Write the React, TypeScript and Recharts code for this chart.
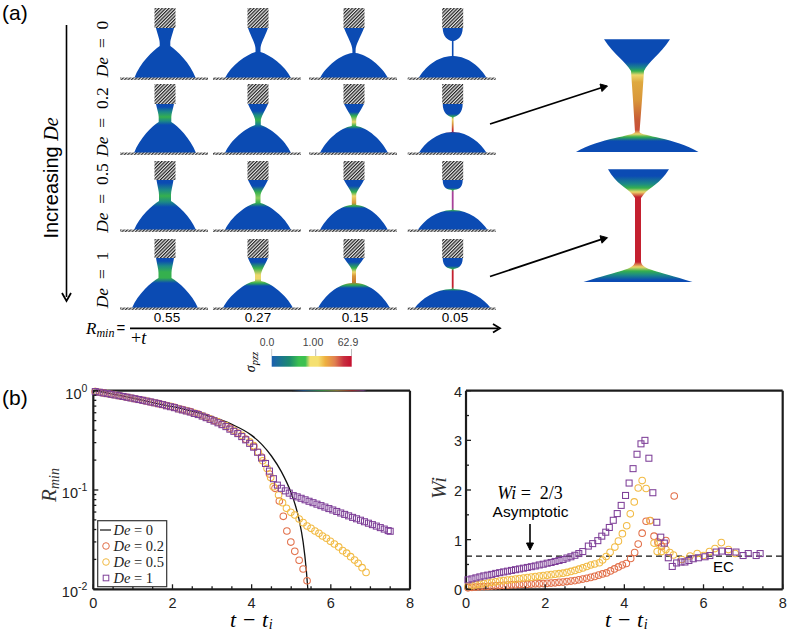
import {
  ComposedChart,
  Legend,
  Line,
  ReferenceLine,
  Scatter,
  XAxis,
  YAxis,
} from "recharts";

type Pt = [number, number];

const rminDe0: Pt[] = [
  [0, 1], [0.5, 0.925], [1, 0.84], [1.5, 0.76], [2, 0.69], [2.5, 0.62], [3, 0.547], [3.5, 0.458],
  [4, 0.355], [4.25, 0.29], [4.5, 0.22], [4.75, 0.153], [5, 0.093], [5.1, 0.071], [5.2, 0.05],
  [5.3, 0.03], [5.38, 0.0157], [5.42, 0.01],
];

const rminDe02: Pt[] = [
  [0.05, 0.98], [0.25, 0.95], [0.45, 0.92], [0.65, 0.89], [0.85, 0.86], [1.05, 0.83], [1.25, 0.8],
  [1.45, 0.77], [1.65, 0.74], [1.85, 0.71], [2.05, 0.68], [2.25, 0.645], [2.45, 0.615], [2.65, 0.58],
  [2.85, 0.54], [3.05, 0.5], [3.25, 0.46], [3.45, 0.42], [3.65, 0.375], [3.85, 0.325], [4.05, 0.275],
  [4.25, 0.215], [4.45, 0.145], [4.59, 0.104], [4.7, 0.0775], [4.8, 0.0543], [4.89, 0.0386],
  [4.99, 0.0299], [5.09, 0.0241], [5.2, 0.0196], [5.3, 0.016], [5.4, 0.0122],
];

const rminDe05: Pt[] = [
  [0.05, 0.98], [0.15, 0.965], [0.35, 0.935], [0.55, 0.905], [0.75, 0.875], [0.95, 0.845], [1.15, 0.815],
  [1.35, 0.785], [1.55, 0.755], [1.75, 0.725], [1.95, 0.695], [2.15, 0.66], [2.35, 0.63], [2.55, 0.595],
  [2.75, 0.56], [2.95, 0.52], [3.15, 0.485], [3.35, 0.445], [3.55, 0.4], [3.75, 0.355], [3.95, 0.305],
  [4.05, 0.28], [4.17, 0.24], [4.28, 0.197], [4.39, 0.165], [4.48, 0.134], [4.545, 0.108], [4.68, 0.089],
  [4.78, 0.0745], [4.88, 0.0654], [4.99, 0.0596], [5.09, 0.056], [5.2, 0.051], [5.3, 0.0469], [5.4, 0.0434],
  [5.5, 0.0411], [5.6, 0.0386], [5.7, 0.0366], [5.79, 0.0344], [5.89, 0.0327], [5.99, 0.0304], [6.09, 0.0286],
  [6.2, 0.0267], [6.3, 0.0245], [6.4, 0.0231], [6.5, 0.0213], [6.6, 0.0197], [6.69, 0.0183], [6.79, 0.0165],
  [6.89, 0.0148],
];

const rminDe1: Pt[] = [
  [0.05, 0.98], [0.15, 0.965], [0.25, 0.95], [0.35, 0.935], [0.45, 0.92], [0.55, 0.905], [0.65, 0.89],
  [0.75, 0.875], [0.85, 0.86], [0.95, 0.845], [1.05, 0.83], [1.15, 0.815], [1.25, 0.8], [1.35, 0.785],
  [1.45, 0.77], [1.55, 0.755], [1.65, 0.74], [1.75, 0.725], [1.85, 0.705], [1.95, 0.69], [2.05, 0.675],
  [2.15, 0.655], [2.25, 0.64], [2.35, 0.625], [2.45, 0.61], [2.55, 0.59], [2.65, 0.575], [2.75, 0.555],
  [2.85, 0.535], [2.95, 0.515], [3.05, 0.495], [3.15, 0.475], [3.25, 0.455], [3.35, 0.435], [3.45, 0.41],
  [3.55, 0.39], [3.65, 0.37], [3.75, 0.345], [3.85, 0.32], [3.95, 0.295], [4.05, 0.27], [4.15, 0.24],
  [4.25, 0.21], [4.35, 0.185], [4.45, 0.155], [4.55, 0.13], [4.65, 0.112], [4.75, 0.104], [4.85, 0.098],
  [4.95, 0.093], [5.05, 0.0878], [5.15, 0.0853], [5.25, 0.0825], [5.35, 0.0797], [5.45, 0.077], [5.55, 0.0745],
  [5.65, 0.072], [5.75, 0.0696], [5.85, 0.0673], [5.95, 0.065], [6.05, 0.0629], [6.15, 0.0608], [6.25, 0.0587],
  [6.35, 0.0568], [6.45, 0.0549], [6.55, 0.053], [6.65, 0.0513], [6.75, 0.0496], [6.85, 0.0479], [6.95, 0.0463],
  [7.05, 0.0448], [7.15, 0.0433], [7.25, 0.0418], [7.35, 0.0404], [7.45, 0.039], [7.5, 0.0384],
];

const wiDe02: Pt[] = [
  [0.05, 0.03], [0.15, 0.04], [0.25, 0.045], [0.35, 0.05], [0.45, 0.055], [0.55, 0.06], [0.65, 0.065],
  [0.75, 0.07], [0.85, 0.075], [0.95, 0.08], [1.05, 0.085], [1.15, 0.09], [1.25, 0.09], [1.35, 0.095],
  [1.45, 0.1], [1.55, 0.1], [1.65, 0.105], [1.75, 0.11], [1.85, 0.11], [1.95, 0.115], [2.05, 0.12],
  [2.15, 0.125], [2.25, 0.13], [2.35, 0.14], [2.45, 0.145], [2.55, 0.155], [2.65, 0.165], [2.75, 0.175],
  [2.85, 0.19], [2.95, 0.205], [3.05, 0.22], [3.15, 0.24], [3.25, 0.26], [3.35, 0.285], [3.45, 0.31],
  [3.55, 0.33], [3.65, 0.37], [3.75, 0.41], [3.85, 0.45], [3.95, 0.49], [4.05, 0.52], [4.16, 0.62],
  [4.26, 0.74], [4.35, 0.91], [4.45, 1.13], [4.55, 1.37], [4.65, 1.385], [4.75, 1.07], [4.85, 0.95],
  [4.94, 0.86], [5.05, 0.98], [5.26, 1.88],
];

const wiDe05: Pt[] = [
  [0.05, 0.06], [0.15, 0.075], [0.25, 0.09], [0.35, 0.1], [0.45, 0.115], [0.55, 0.125], [0.65, 0.14],
  [0.75, 0.15], [0.85, 0.165], [0.95, 0.175], [1.05, 0.185], [1.15, 0.195], [1.25, 0.205], [1.35, 0.215],
  [1.45, 0.225], [1.55, 0.235], [1.65, 0.245], [1.75, 0.255], [1.85, 0.265], [1.95, 0.275], [2.05, 0.285],
  [2.15, 0.295], [2.25, 0.305], [2.35, 0.315], [2.45, 0.325], [2.55, 0.34], [2.65, 0.36], [2.75, 0.38],
  [2.85, 0.405], [2.95, 0.43], [3.05, 0.46], [3.15, 0.49], [3.25, 0.51], [3.37, 0.535], [3.45, 0.59],
  [3.54, 0.66], [3.64, 0.745], [3.76, 0.85], [3.85, 0.97], [3.95, 1.12], [4.06, 1.28], [4.15, 1.52],
  [4.25, 1.76], [4.35, 2.04], [4.45, 2.19], [4.55, 2.03], [4.65, 1.38], [4.75, 0.93], [4.83, 0.76],
  [4.86, 0.91], [4.94, 0.76], [5.05, 0.8], [5.15, 0.74], [5.24, 0.69], [5.45, 0.6], [5.66, 0.67],
  [5.84, 0.72], [6.0, 0.68], [6.15, 0.76], [6.29, 0.82], [6.45, 0.94], [6.63, 0.8], [6.8, 0.72],
];

const wiDe1: Pt[] = [
  [0.05, 0.19], [0.15, 0.21], [0.25, 0.23], [0.35, 0.25], [0.45, 0.27], [0.55, 0.285], [0.65, 0.3],
  [0.75, 0.32], [0.85, 0.335], [0.95, 0.35], [1.05, 0.365], [1.15, 0.38], [1.25, 0.395], [1.35, 0.41],
  [1.45, 0.425], [1.55, 0.44], [1.65, 0.455], [1.75, 0.47], [1.85, 0.49], [1.95, 0.505], [2.05, 0.525],
  [2.15, 0.54], [2.25, 0.56], [2.35, 0.58], [2.45, 0.6], [2.55, 0.63], [2.65, 0.655], [2.75, 0.685],
  [2.85, 0.72], [2.95, 0.76], [3.09, 0.87], [3.2, 0.92], [3.33, 0.98], [3.43, 1.07], [3.53, 1.15],
  [3.62, 1.245], [3.72, 1.39], [3.82, 1.525], [3.92, 1.69], [4.03, 1.89], [4.12, 2.14], [4.22, 2.43],
  [4.32, 2.72], [4.42, 2.93], [4.52, 3.0], [4.62, 2.64], [4.72, 1.945], [4.82, 1.35], [4.92, 1.05],
  [5.01, 0.93], [5.11, 0.635], [5.21, 0.46], [5.32, 0.53], [5.43, 0.55], [5.53, 0.55], [5.63, 0.58],
  [5.74, 0.615], [5.87, 0.635], [6.04, 0.655], [6.16, 0.68], [6.32, 0.75], [6.46, 0.77], [6.63, 0.76],
  [6.82, 0.75], [7.0, 0.68], [7.13, 0.72], [7.33, 0.68], [7.43, 0.72],
];

const xTicks = [0, 0.5, 1, 1.5, 2, 2.5, 3, 3.5, 4, 4.5, 5, 5.5, 6, 6.5, 7, 7.5, 8];
const xLabels = [0, 2, 4, 6, 8];
const logTicks = [
  0.01, 0.02, 0.03, 0.04, 0.05, 0.06, 0.07, 0.08, 0.09, 0.1, 0.2, 0.3, 0.4, 0.5, 0.6, 0.7, 0.8, 0.9, 1,
];
const logLabels: Record<number, string> = { 0.01: "-2", 0.1: "-1", 1: "0" };
const wiTicks = [0, 0.5, 1, 1.5, 2, 2.5, 3, 3.5, 4];
const wiLabels = [0, 1, 2, 3, 4];
const panelDe = ["0", "0.2", "0.5", "1"];
const rminRow = ["0.55", "0.27", "0.15", "0.05"];

const RED = "#e2704a";
const YELLOW = "#f2bb45";
const PURPLE = "#7e3f98";
const FRAME = "#1c1c1c";
const TICK_W = 1.3;
const SERIF = "'Liberation Serif', serif";

const toRows = (pts: Pt[]) => pts.map(([t, v]) => ({ t, v }));

const circle = (color: string) => (p: any) =>
  <circle cx={p.cx} cy={p.cy} r={3.3} fill="none" stroke={color} strokeWidth={1.05} />;
const square = (color: string) => (p: any) =>
  <rect x={p.cx - 3} y={p.cy - 3} width={6} height={6} fill="none" stroke={color} strokeWidth={1.05} />;

const bottomTick = (p: any) => {
  const major = xLabels.includes(p.payload.value);
  return (
    <g>
      <line x1={p.x} x2={p.x} y1={p.y} y2={p.y - (major ? 5 : 3)} stroke={FRAME} strokeWidth={TICK_W} />
      {major && (
        <text x={p.x} y={p.y + 19} textAnchor="middle" fontSize={14.5} fill="#222">
          {p.payload.value}
        </text>
      )}
    </g>
  );
};
const topTick = (p: any) => (
  <line
    x1={p.x} x2={p.x} y1={p.y} y2={p.y + (xLabels.includes(p.payload.value) ? 5 : 3)}
    stroke={FRAME} strokeWidth={TICK_W}
  />
);
const inwardY = (isMajor: (v: number) => boolean, dir: number) => (p: any) => (
  <line
    x1={p.x} x2={p.x + dir * (isMajor(p.payload.value) ? 5 : 3)} y1={p.y} y2={p.y}
    stroke={FRAME} strokeWidth={TICK_W}
  />
);

const logLeftTick = (p: any) => {
  const exp = logLabels[p.payload.value];
  return (
    <g>
      <line x1={p.x} x2={p.x + (exp ? 5 : 3)} y1={p.y} y2={p.y} stroke={FRAME} strokeWidth={TICK_W} />
      {exp && (
        <text x={p.x - 6} y={p.y + 8} textAnchor="end" fontSize={14.5} fill="#222">
          10<tspan dy={-7} fontSize={10.5}>{exp}</tspan>
        </text>
      )}
    </g>
  );
};
const wiLeftTick = (p: any) => {
  const major = wiLabels.includes(p.payload.value);
  return (
    <g>
      <line x1={p.x} x2={p.x + (major ? 5 : 3)} y1={p.y} y2={p.y} stroke={FRAME} strokeWidth={TICK_W} />
      {major && (
        <text x={p.x - 4} y={p.y + 6} textAnchor="end" fontSize={14.5} fill="#222">
          {p.payload.value}
        </text>
      )}
    </g>
  );
};

function MiniLegend() {
  const rows = ["0", "0.2", "0.5", "1"];
  return (
    <svg width={71} height={68} style={{ display: "block" }}>
      <rect x={0.7} y={0.7} width={69} height={66} fill="#fff" stroke="#333" strokeWidth={1.2} />
      <line x1={3} x2={14} y1={10} y2={10} stroke="#111" strokeWidth={1.2} />
      <circle cx={9} cy={26} r={3.3} fill="none" stroke={RED} />
      <circle cx={9} cy={42} r={3.3} fill="none" stroke={YELLOW} />
      <rect x={6.2} y={55.2} width={5.6} height={5.6} fill="none" stroke={PURPLE} />
      {rows.map((r, i) => (
        <text key={r} x={16.5} y={14.5 + i * 16} fontFamily={SERIF} fontSize={14.5} fill="#222">
          <tspan fontStyle="italic">De</tspan> = {r}
        </text>
      ))}
    </svg>
  );
}

/* ---- panel (a): simulation snapshots, redrawn as plain svg ---- */
const B = "#0b4bb3";
const T = "#1c8a86";
const G = "#35b04e";
const Y = "#ecd76a";
const O = "#d9973a";
const R = "#c4202f";
const M = "#a8409a";

type Cell = {
  w: number; n: number; y1: number; y2: number; rb: number; a: number; b: number;
  pendant?: boolean; stops: [number, string][];
};

const COL_X = [165, 258, 354, 452.7];
const ROW_Y = [
  { noz: 8, top: 28, base: 78 },
  { noz: 84, top: 104, base: 153 },
  { noz: 161, top: 180, base: 230 },
  { noz: 239, top: 258, base: 308 },
];
const CELLS: Cell[][] = [
  [
    { w: 9, n: 5.3, y1: 43, y2: 46, rb: 30.7, a: 0.25, b: 0.14, stops: [] },
    { w: 10, n: 2.5, y1: 49, y2: 52, rb: 33, a: 0.3, b: 0.1, stops: [] },
    { w: 10, n: 1.6, y1: 50, y2: 53, rb: 34, a: 0.35, b: 0.05, stops: [] },
    { w: 10, n: 0.8, y1: 41, y2: 56, rb: 34, a: 0.45, b: 0.02, pendant: true, stops: [] },
  ],
  [
    { w: 9, n: 6.3, y1: 117, y2: 122, rb: 31, a: 0.25, b: 0.12, stops: [[107, B], [112, T], [117, G], [121, T], [125, B]] },
    { w: 10, n: 2.8, y1: 121, y2: 125, rb: 33, a: 0.3, b: 0.1, stops: [[111, B], [115, T], [120, G], [124, T], [128, B]] },
    { w: 10, n: 2.2, y1: 120, y2: 126, rb: 34, a: 0.35, b: 0.05, stops: [[112, B], [116, G], [122, Y], [126, G], [129, B]] },
    { w: 10, n: 0.9, y1: 117, y2: 132, rb: 34, a: 0.45, b: 0.02, pendant: true, stops: [[114, B], [117, G], [119, Y], [124, O], [131, R], [133, B]] },
  ],
  [
    { w: 8.5, n: 6, y1: 195, y2: 201, rb: 31, a: 0.25, b: 0.14, stops: [[183, B], [190, T], [196, G], [202, T], [207, B]] },
    { w: 10, n: 2.5, y1: 196, y2: 203, rb: 33, a: 0.3, b: 0.08, stops: [[186, B], [192, G], [198, "#8fcf5c"], [203, G], [207, B]] },
    { w: 10, n: 2.2, y1: 195, y2: 205, rb: 34, a: 0.4, b: 0.03, stops: [[186, B], [192, G], [196, Y], [203, O], [206, G], [208, B]] },
    { w: 10, n: 0.9, y1: 190, y2: 210, rb: 35, a: 0.45, b: 0.02, pendant: true, stops: [[188, B], [190, G], [192, M], [208, M], [210, G], [212, B]] },
  ],
  [
    { w: 9, n: 6.5, y1: 273, y2: 278, rb: 33, a: 0.25, b: 0.12, stops: [[261, B], [266, T], [272, G], [278, G], [283, B]] },
    { w: 10, n: 3, y1: 275, y2: 281, rb: 35, a: 0.3, b: 0.06, stops: [[262, B], [268, G], [275, Y], [279, Y], [283, G], [286, B]] },
    { w: 10, n: 2, y1: 271, y2: 283, rb: 36, a: 0.42, b: 0.03, stops: [[262, B], [268, G], [272, Y], [276, O], [282, "#c87a30"], [285, G], [288, B]] },
    { w: 10, n: 0.9, y1: 269, y2: 289, rb: 38, a: 0.45, b: 0.02, pendant: true, stops: [[266, B], [269, G], [271, R], [287, R], [289, G], [291, B]] },
  ],
];

function bridgePath(cx: number, top: number, base: number, c: Cell) {
  const { w, n, y1, y2, rb, a, b } = c;
  const c1x = n + (rb - n) * a;
  const c1y = y2 + (base - y2) * b;
  const c2y = base - (base - y2) * 0.48;
  const upA = c.pendant
    ? [w, top + 9, n + 3.5, y1 - 0.5]
    : [w - (w - n) * 0.45, top + (y1 - top) * 0.45, n, y1 - (y1 - top) * 0.25];
  return [
    `M${cx - w} ${top} L${cx + w} ${top}`,
    `C${cx + upA[0]} ${upA[1]} ${cx + upA[2]} ${upA[3]} ${cx + n} ${y1}`,
    `L${cx + n} ${y2}`,
    `C${cx + c1x} ${c1y} ${cx + rb * 0.82} ${c2y} ${cx + rb} ${base}`,
    `L${cx - rb} ${base}`,
    `C${cx - rb * 0.82} ${c2y} ${cx - c1x} ${c1y} ${cx - n} ${y2}`,
    `L${cx - n} ${y1}`,
    `C${cx - upA[2]} ${upA[3]} ${cx - upA[0]} ${upA[1]} ${cx - w} ${top} Z`,
  ].join(" ");
}

function Gradient({ id, top, base, stops }: { id: string; top: number; base: number; stops: [number, string][] }) {
  return (
    <linearGradient id={id} gradientUnits="userSpaceOnUse" x1={0} x2={0} y1={top} y2={base}>
      <stop offset={0} stopColor={B} />
      {stops.map(([y, col], i) => (
        <stop key={i} offset={(y - top) / (base - top)} stopColor={col} />
      ))}
      <stop offset={1} stopColor={B} />
    </linearGradient>
  );
}

function Snapshots() {
  return (
    <>
      {ROW_Y.map((row, r) =>
        COL_X.map((cx, c) => {
          const id = `cell${r}${c}`;
          const cell = CELLS[r][c];
          return (
            <g key={id}>
              <Gradient id={id} top={row.top} base={row.base} stops={cell.stops} />
              <rect x={cx - 10.5} y={row.noz} width={21} height={row.top - row.noz} fill="url(#hatch)" />
              <path d={bridgePath(cx, row.top, row.base, cell)} fill={`url(#${id})`} />
              <rect x={cx - 45} y={row.base - 0.5} width={88} height={2.4} fill="url(#ground)" />
            </g>
          );
        }),
      )}
    </>
  );
}

function Annotations() {
  return (
    <>
      <text x={2} y={20} fontSize={21}>(a)</text>
      <text x={2} y={405} fontSize={21}>(b)</text>

      <line x1={66.5} x2={66.5} y1={25} y2={297} stroke="#000" strokeWidth={1.6} />
      <path d="M62 293 L66.5 301 L71 293" fill="none" stroke="#000" strokeWidth={1.8} />
      <text transform="translate(58 178) rotate(-90)" textAnchor="middle" fontSize={20}>
        Increasing <tspan fontFamily={SERIF} fontStyle="italic">De</tspan>
      </text>

      {panelDe.map((d, i) => (
        <text
          key={d}
          transform={`translate(108 ${[49, 122, 198, 280][i]}) rotate(-90)`}
          textAnchor="middle"
          fontFamily={SERIF}
          fontSize={17.5}
          xmlSpace="preserve"
        >
          <tspan fontStyle="italic">De</tspan>  =  {d}
        </text>
      ))}

      {rminRow.map((v, i) => (
        <text key={v} x={[167, 258, 355, 455][i]} y={322} textAnchor="middle" fontSize={13.5}>{v}</text>
      ))}
      <line x1={130} x2={498} y1={328.3} y2={328.3} stroke="#000" strokeWidth={1.8} />
      <path d="M493 324 L500 328.3 L493 332.6" fill="none" stroke="#000" strokeWidth={1.8} />
      <text x={86} y={334} fontFamily={SERIF} fontSize={17} fontStyle="italic">
        R<tspan dy={3} fontSize={12}>min</tspan>
      </text>
      <text x={116.5} y={333} fontSize={15}>=</text>
      <text x={131} y={344} fontFamily={SERIF} fontSize={18}>+<tspan fontStyle="italic">t</tspan></text>

      <text x={267} y={346} textAnchor="middle" fontSize={10.5} fill="#444">0.0</text>
      <text x={313} y={346} textAnchor="middle" fontSize={10.5} fill="#444">1.00</text>
      <text x={348} y={346} textAnchor="middle" fontSize={10.5} fill="#444">62.9</text>
      <line x1={315.7} x2={315.7} y1={349} y2={356} stroke="#bbb" />
      <line x1={351.5} x2={351.5} y1={349} y2={356} stroke="#bbb" />
      <line x1={271.7} x2={271.7} y1={349} y2={356} stroke="#ccc" />
      <rect x={271.7} y={356} width={80} height={10.7} fill="url(#cbar)" />
      <text transform="translate(255 362) rotate(-90)" textAnchor="middle" fontFamily={SERIF} fontSize={14} fontStyle="italic">
        σ<tspan dy={2.5} fontSize={10.5}>pzz</tspan>
      </text>

      <path d="M490 124 L602 87.5" stroke="#000" strokeWidth={1.8} />
      <path d="M600 84 L607.5 86 L602 91.5 Z" fill="#000" stroke="#000" />
      <path d="M490 276.5 L602 239.2" stroke="#000" strokeWidth={1.8} />
      <path d="M600 235.7 L607.5 237.7 L602 243.2 Z" fill="#000" stroke="#000" />

      <Gradient
        id="inset1"
        top={39}
        base={152}
        stops={[[62, B], [68, T], [71, G], [75, Y], [82, "#dfa93f"], [100, O], [120, "#c75a35"], [130, "#c9503a"], [134, Y], [137, G], [141, B]]}
      />
      <path
        d="M604 39.3 L670 39.3 C660 55 648 62 644 71 L642 100 L639.5 132 C641 136 675 138 698.5 152 L576 152 C600 138 634 136 635 132 L633 100 L631 71 C626 62 614 55 604 39.3 Z"
        fill="url(#inset1)"
      />
      <Gradient
        id="inset2"
        top={169}
        base={282}
        stops={[[176, B], [184, T], [188, G], [192, Y], [197, R], [262, R], [267, Y], [271, G], [275, T], [280, B]]}
      />
      <path
        d="M608 169.3 L669 169.3 C660 184 650 187 644 194 L641 198 L641 262 C643 270 655 270 692.5 282 L583.5 282 C621 270 633 270 635 262 L635 198 L632 194 C626 187 616 184 608 169.3 Z"
        fill="url(#inset2)"
      />

      {/* panel (b) axis titles and notes */}
      <text x={251.7} y={627} textAnchor="middle" fontFamily={SERIF} fontSize={22} letterSpacing={0.6} xmlSpace="preserve">
        <tspan fontStyle="italic">t</tspan> − <tspan fontStyle="italic">t</tspan>
        <tspan dy={2} fontSize={14} fontStyle="italic">i</tspan>
      </text>
      <text x={626.7} y={627} textAnchor="middle" fontFamily={SERIF} fontSize={22} letterSpacing={0.6} xmlSpace="preserve">
        <tspan fontStyle="italic">t</tspan> − <tspan fontStyle="italic">t</tspan>
        <tspan dy={2} fontSize={14} fontStyle="italic">i</tspan>
      </text>
      <text transform="translate(56 485) rotate(-90)" textAnchor="middle" fontFamily={SERIF} fontSize={21} fontStyle="italic" fill="#333">
        R<tspan dy={3} fontSize={14}>min</tspan>
      </text>
      <text transform="translate(446 488) rotate(-90)" textAnchor="middle" fontFamily={SERIF} fontSize={21} fontStyle="italic" fill="#333">
        Wi
      </text>
      <text x={530} y={499} textAnchor="middle" fontFamily={SERIF} fontSize={18} xmlSpace="preserve">
        <tspan fontStyle="italic">Wi</tspan> =  2/3
      </text>
      <text x={530.5} y={517} textAnchor="middle" fontSize={15.5}>Asymptotic</text>
      <line x1={530} x2={530} y1={524} y2={546} stroke="#000" strokeWidth={1.6} />
      <path d="M526.5 543 L530 550 L533.5 543 Z" fill="#000" stroke="#000" />
      <text x={723.5} y={572} textAnchor="middle" fontSize={15}>EC</text>
    </>
  );
}

function Defs() {
  return (
    <defs>
      <pattern id="hatch" width={2.4} height={2.4} patternUnits="userSpaceOnUse" patternTransform="rotate(45)">
        <rect width={2.4} height={2.4} fill="#e8e8e8" />
        <rect width={1.2} height={2.4} fill="#222" />
      </pattern>
      <pattern id="ground" width={2.4} height={2.4} patternUnits="userSpaceOnUse" patternTransform="rotate(45)">
        <rect width={2.4} height={2.4} fill="#ddd" />
        <rect width={1.2} height={2.4} fill="#333" />
      </pattern>
      <linearGradient id="cbar">
        <stop offset={0} stopColor="#1a5fb0" />
        <stop offset={0.22} stopColor="#1c8a70" />
        <stop offset={0.34} stopColor="#3cc050" />
        <stop offset={0.42} stopColor="#3cc050" />
        <stop offset={0.48} stopColor="#f5e070" />
        <stop offset={0.58} stopColor="#f5e070" />
        <stop offset={0.67} stopColor="#eeb040" />
        <stop offset={0.79} stopColor="#e08050" />
        <stop offset={0.9} stopColor="#c83040" />
        <stop offset={1} stopColor="#c4102f" />
      </linearGradient>
      <linearGradient id="frameTint">
        <stop offset={0} stopColor="#1c1c1c" />
        <stop offset={0.15} stopColor="#1a5fb0" />
        <stop offset={0.4} stopColor="#3cc050" />
        <stop offset={0.6} stopColor="#b8a040" />
        <stop offset={0.8} stopColor="#d03030" />
        <stop offset={0.95} stopColor="#7e3f98" />
        <stop offset={1} stopColor="#1c1c1c" />
      </linearGradient>
    </defs>
  );
}

const layer = { position: "absolute", left: 0, top: 0 } as const;
const axisLine = { stroke: FRAME, strokeWidth: 2.2 };
const THIN = 0.01; // axes draw nothing at a size of exactly 0

function Frame({ yDomain, log, yTicks, leftTick, rightTick, left, right, children }: any) {
  return (
    <ComposedChart
      width={788}
      height={633}
      style={layer}
      margin={{ top: 390.7, bottom: 43.7, left, right }}
    >
      <XAxis
        dataKey="t" type="number" domain={[0, 8]} ticks={xTicks} interval={0} height={THIN}
        tickSize={0} tickMargin={0} tickLine={false} axisLine={axisLine} tick={bottomTick}
      />
      <XAxis
        xAxisId="top" orientation="top" type="number" domain={[0, 8]} ticks={xTicks} interval={0} height={THIN}
        tickSize={0} tickMargin={0} tickLine={false} axisLine={axisLine} tick={topTick}
      />
      <YAxis
        dataKey="v" type="number" scale={log ? "log" : "linear"} domain={yDomain} ticks={yTicks} interval={0} width={THIN}
        tickSize={0} tickMargin={0} tickLine={false} axisLine={axisLine} tick={leftTick}
      />
      <YAxis
        yAxisId="right" orientation="right" type="number" scale={log ? "log" : "linear"} domain={yDomain} ticks={yTicks}
        interval={0} width={THIN} tickSize={0} tickMargin={0} tickLine={false} axisLine={axisLine} tick={rightTick}
      />
      {children}
    </ComposedChart>
  );
}

export default function App() {
  return (
    <div style={{ ...layer, width: 788, height: 633, fontFamily: "'Liberation Sans', sans-serif", background: "#fff" }}>
      <svg width={788} height={633} style={layer} fontFamily="'Liberation Sans', sans-serif">
        <Defs />
        <Snapshots />
        <Annotations />
      </svg>

      <Frame
        yDomain={[0.01, 1]} log yTicks={logTicks}
        leftTick={logLeftTick}
        rightTick={inwardY((v: number) => v in logLabels, -1)}
        left={93.3} right={378}
      >
        <Line data={toRows(rminDe0)} dataKey="v" type="monotone" stroke="#111" strokeWidth={1.3} dot={false} isAnimationActive={false} />
        <Scatter data={toRows(rminDe02)} shape={circle(RED)} isAnimationActive={false} />
        <Scatter data={toRows(rminDe05)} shape={circle(YELLOW)} isAnimationActive={false} />
        <Scatter data={toRows(rminDe1)} shape={square(PURPLE)} isAnimationActive={false} />
        <Legend
          layout="horizontal" verticalAlign="middle" width={71}
          wrapperStyle={{ left: 96.5, top: 520.3, width: 71, height: 68 }}
          content={() => <MiniLegend />}
        />
      </Frame>

      <Frame
        yDomain={[0, 4]} yTicks={wiTicks}
        leftTick={wiLeftTick}
        rightTick={inwardY((v: number) => wiLabels.includes(v), -1)}
        left={466} right={5.3}
      >
        <ReferenceLine y={2 / 3} stroke="#111" strokeWidth={1.3} strokeDasharray="6 4" />
        <Scatter data={toRows(wiDe02)} shape={circle(RED)} isAnimationActive={false} />
        <Scatter data={toRows(wiDe05)} shape={circle(YELLOW)} isAnimationActive={false} />
        <Scatter data={toRows(wiDe1)} shape={square(PURPLE)} isAnimationActive={false} />
      </Frame>

      {/* the colour bar bleeds onto the plot's top edge in the source figure */}
      <svg width={788} height={633} style={{ ...layer, pointerEvents: "none" }}>
        <rect x={292} y={390.2} width={75} height={1} fill="url(#frameTint)" opacity={0.8} />
      </svg>
    </div>
  );
}
